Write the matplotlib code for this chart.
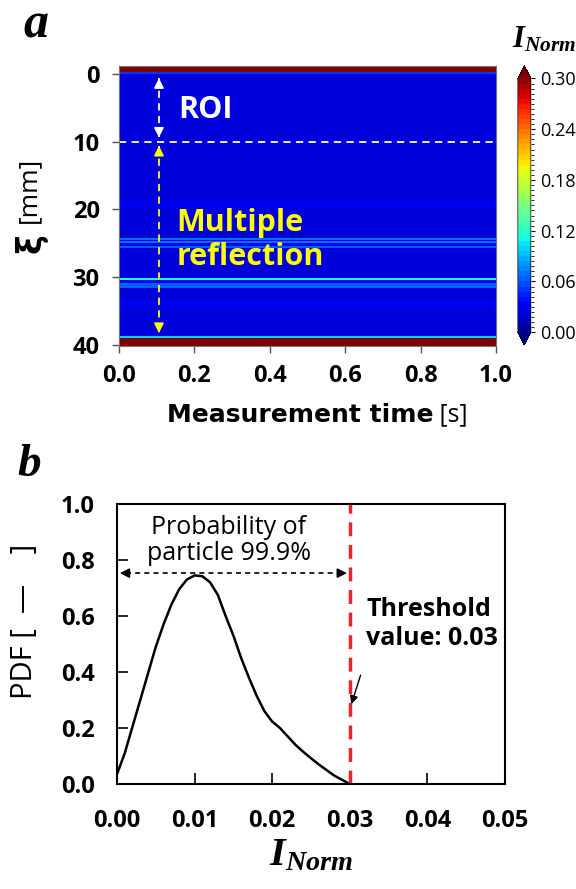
import matplotlib
matplotlib.use("Agg")
import matplotlib.pyplot as plt
import numpy as np
from matplotlib.colors import BoundaryNorm

plt.rcParams['font.family'] = ['Open Sans', 'DejaVu Sans']
plt.rcParams['mathtext.fontset'] = 'custom'
plt.rcParams['mathtext.it'] = 'Liberation Serif:italic:bold'
plt.rcParams['mathtext.rm'] = 'Liberation Serif:bold'

# panel a: intensity profile along xi (same for every time)
xi_edges = [-1.2, -0.3, 0.0, 18.6, 19.6, 24.2, 24.5, 24.7, 25.0, 25.4, 25.7,
            30.1, 30.5, 30.9, 31.6, 33.4, 34.4, 38.7, 39.0, 40.2]
xi_vals = [0.35, 0.05, 0.02, 0.026, 0.02, 0.07, 0.03, 0.07, 0.03, 0.06, 0.02,
           0.11, 0.03, 0.06, 0.02, 0.026, 0.02, 0.10, 0.35]
time_edges = [0.0, 1.0]

# panel b: PDF of normalised intensity
inorm = [0, 0.001, 0.002, 0.003, 0.004, 0.005, 0.006, 0.007, 0.008, 0.009, 0.010,
         0.011, 0.012, 0.013, 0.014, 0.015, 0.016, 0.017, 0.018, 0.019, 0.020,
         0.021, 0.022, 0.023, 0.024, 0.025, 0.026, 0.027, 0.028, 0.029, 0.030]
pdf = [0.035, 0.11, 0.205, 0.30, 0.395, 0.49, 0.57, 0.64, 0.695, 0.73, 0.745,
       0.742, 0.72, 0.675, 0.60, 0.53, 0.45, 0.38, 0.315, 0.26, 0.223,
       0.20, 0.17, 0.14, 0.115, 0.092, 0.07, 0.05, 0.03, 0.015, 0.0]
threshold = 0.03

fig = plt.figure(figsize=(5.76, 8.89), dpi=100)

ax1 = fig.add_axes([0.2066, 0.6108, 0.6545, 0.315])
levels = np.linspace(0, 0.3, 51)
norm = BoundaryNorm(levels, plt.cm.jet.N, extend='both')
zz = np.array(xi_vals).reshape(-1, 1)
mesh = ax1.pcolormesh(time_edges, xi_edges, zz, cmap='jet', norm=norm)
ax1.set_xlim(0, 1)
ax1.set_ylim(40.2, -1.2)
ax1.set_xticks(np.arange(0, 1.01, 0.2))
ax1.set_xticklabels(['%.1f' % v for v in np.arange(0, 1.01, 0.2)])
ax1.set_yticks([0, 10, 20, 30, 40])
ax1.tick_params(direction='out', length=5, width=1, color='#555555', labelsize=17)
ax1.tick_params(axis='x', pad=8)
ax1.tick_params(axis='y', pad=9)
for lab in ax1.get_xticklabels() + ax1.get_yticklabels():
    lab.set_fontweight('bold')
for s in ax1.spines.values():
    s.set_color('#777777')
    s.set_linewidth(0.8)

ax1.plot([0, 1], [10, 10], color='white', lw=1.3, ls=(0, (4, 3)))
ax1.plot([0.106, 0.106], [0.6, 9.4], color='white', lw=1.3, ls=(0, (4, 3)))
ax1.annotate('', xy=(0.106, 0.2), xytext=(0.106, 1.5),
             arrowprops=dict(arrowstyle='-|>', color='white', lw=1.3, mutation_scale=14))
ax1.annotate('', xy=(0.106, 9.8), xytext=(0.106, 8.5),
             arrowprops=dict(arrowstyle='-|>', color='white', lw=1.3, mutation_scale=14))
ax1.plot([0.106, 0.106], [10.6, 38.2], color='#ffff00', lw=1.3, ls=(0, (4, 3)))
ax1.annotate('', xy=(0.106, 10.2), xytext=(0.106, 11.5),
             arrowprops=dict(arrowstyle='-|>', color='#ffff00', lw=1.3, mutation_scale=14))
ax1.annotate('', xy=(0.106, 38.7), xytext=(0.106, 37.4),
             arrowprops=dict(arrowstyle='-|>', color='#ffff00', lw=1.3, mutation_scale=14))
ax1.text(0.157, 5.3, 'ROI', color='white', fontsize=22, fontweight='bold',
         ha='left', va='center')
ax1.text(0.152, 24.5, 'Multiple\nreflection', color='#ffff00', fontsize=22,
         fontweight='bold', ha='left', va='center', linespacing=1.2)

ax1.text(0.833, -0.246, 'Measurement time', transform=ax1.transAxes, fontsize=18,
         fontweight='bold', ha='right', va='center', family=['DejaVu Sans'])
ax1.text(0.833, -0.246, ' [s]', transform=ax1.transAxes, fontsize=18,
         ha='left', va='center')
fig.text(0.053, 1 - 243 / 889., 'ξ', fontsize=24, fontweight='bold', rotation=90,
         ha='center', va='center', family=['DejaVu Sans'])
fig.text(0.05, 1 - 190 / 889., '[mm]', fontsize=19, rotation=90,
         ha='center', va='center')

cax = fig.add_axes([0.899, 0.612, 0.0226, 0.314])
cb = fig.colorbar(mesh, cax=cax, extend='both', ticks=np.arange(0, 0.301, 0.06))
cb.ax.set_yticklabels(['%.2f' % v for v in np.arange(0, 0.301, 0.06)])
cb.ax.tick_params(labelsize=13, length=3, width=0.8)
cb.outline.set_linewidth(0.5)
fig.text(0.945, 1 - 40 / 889., r'$I_{Norm}$', fontsize=22, ha='center', va='center')

fig.text(0.062, 1 - 25 / 889., 'a', fontsize=36, fontweight='bold', style='italic',
         family='Liberation Serif', ha='center', va='center')

ax2 = fig.add_axes([0.2031, 0.1181, 0.6736, 0.315])
ax2.plot(inorm, pdf, color='black', lw=1.8)
ax2.plot([threshold, threshold], [0, 1], color='#e8262a', lw=2.5, ls=(0, (4, 2.5)))
ax2.plot([0.0012, 0.0288], [0.753, 0.753], color='black', lw=1.2, ls=(0, (3, 2.5)))
ax2.annotate('', xy=(0.0, 0.753), xytext=(0.0015, 0.753),
             arrowprops=dict(arrowstyle='-|>', color='black', lw=1.2, mutation_scale=14))
ax2.annotate('', xy=(threshold, 0.753), xytext=(0.0285, 0.753),
             arrowprops=dict(arrowstyle='-|>', color='black', lw=1.2, mutation_scale=14))
ax2.text(0.0144, 0.87, 'Probability of\nparticle 99.9%', fontsize=18, ha='center',
         va='center', linespacing=1.05)
ax2.text(0.0321, 0.572, 'Threshold\nvalue: 0.03', fontsize=18, fontweight='bold',
         ha='left', va='center', linespacing=1.2)
ax2.annotate('', xy=(0.0301, 0.276), xytext=(0.0315, 0.398),
             arrowprops=dict(arrowstyle='-|>', color='black', lw=1, mutation_scale=12))
ax2.set_xlim(0, 0.05)
ax2.set_ylim(0, 1)
ax2.set_xticks(np.arange(0, 0.0501, 0.01))
ax2.set_xticklabels(['%.2f' % v for v in np.arange(0, 0.0501, 0.01)])
ax2.set_yticks(np.arange(0, 1.01, 0.2))
ax2.set_yticklabels(['%.1f' % v for v in np.arange(0, 1.01, 0.2)])
ax2.tick_params(direction='in', length=8, width=1.2, labelsize=17)
ax2.tick_params(axis='x', pad=18)
ax2.tick_params(axis='y', pad=16)
for lab in ax2.get_xticklabels() + ax2.get_yticklabels():
    lab.set_fontweight('bold')
for s in ax2.spines.values():
    s.set_linewidth(1.5)
fig.text(25 / 576., 1 - 621 / 889., 'PDF [  —    ]', fontsize=21, rotation=90,
         ha='center', va='center')
ax2.set_xlabel(r'$I_{Norm}$', fontsize=29, labelpad=1)

fig.text(0.05, 1 - 465 / 889., 'b', fontsize=34, fontweight='bold', style='italic',
         family='Liberation Serif', ha='center', va='center')

plt.savefig('out.png', dpi=100)
plt.close()
